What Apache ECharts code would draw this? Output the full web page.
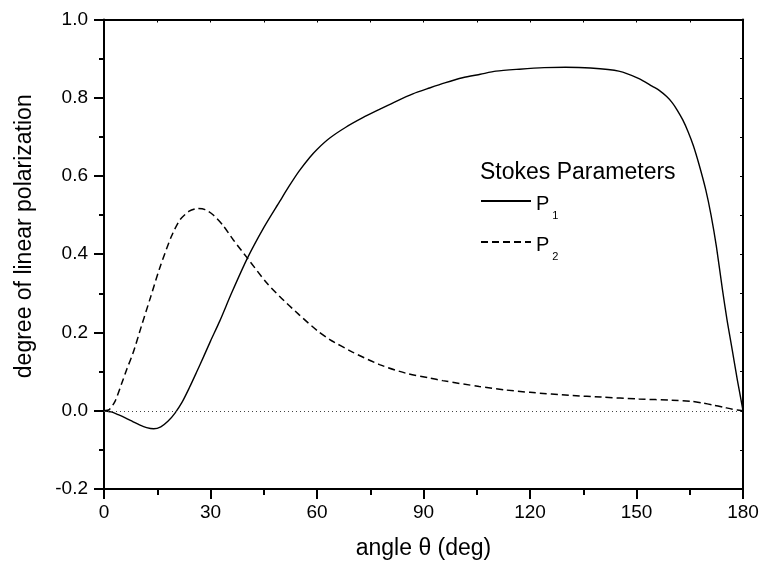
<!DOCTYPE html>
<html>
<head>
<meta charset="utf-8">
<script src="https://cdn.jsdelivr.net/npm/echarts@6/dist/echarts.min.js"></script>
<style>
  html, body { margin: 0; padding: 0; background: #fff; }
  #chart { width: 763px; height: 574px; }
</style>
</head>
<body>
<div id="chart"></div>
<script>
// values
const p1Angle = [0, 2, 4, 6, 8, 10, 12, 14, 16, 18, 20, 22, 24, 26, 28, 30, 32.6, 36, 40.4, 45, 49.5, 52, 55, 58, 60, 63.6, 68, 72.9, 78, 82.3, 87, 91.7, 96, 101, 106, 110.4, 117, 124, 130, 137, 145, 150.7, 154.5, 156.4, 158.5, 160.1, 161.5, 163, 164.5, 166, 167.6, 169.5, 171, 172.5, 174.2, 175.5, 176.5, 177.5, 178.4, 179.3, 180]
const p1Value = [0, -0.003, -0.010, -0.018, -0.027, -0.036, -0.043, -0.046, -0.041, -0.027, -0.006, 0.022, 0.058, 0.097, 0.137, 0.178, 0.229, 0.302, 0.390, 0.468, 0.535, 0.572, 0.613, 0.648, 0.668, 0.697, 0.724, 0.749, 0.772, 0.791, 0.810, 0.825, 0.838, 0.851, 0.860, 0.868, 0.873, 0.877, 0.878, 0.876, 0.868, 0.849, 0.829, 0.819, 0.803, 0.787, 0.768, 0.744, 0.714, 0.678, 0.630, 0.565, 0.500, 0.420, 0.310, 0.232, 0.180, 0.127, 0.079, 0.035, 0]
const p2Angle = [0, 1.5, 3.1, 5, 6.5, 8.2, 10.5, 12.9, 15.7, 19, 21.4, 24, 26.5, 28.5, 30.7, 33.5, 36.4, 40.4, 45.8, 49.5, 55, 60.3, 63.6, 70, 77.6, 85, 91.7, 95.4, 105.7, 113.2, 120, 132, 140, 150.7, 160, 165.7, 168.5, 171.4, 174.5, 177, 180]
const p2Value = [0, 0.003, 0.024, 0.070, 0.108, 0.148, 0.215, 0.284, 0.365, 0.446, 0.488, 0.510, 0.517, 0.514, 0.501, 0.474, 0.437, 0.390, 0.327, 0.292, 0.245, 0.203, 0.182, 0.150, 0.118, 0.096, 0.084, 0.077, 0.062, 0.053, 0.047, 0.039, 0.035, 0.030, 0.027, 0.024, 0.020, 0.015, 0.009, 0.004, 0]
const seriesNames = ['P1', 'P2']
const legendTitle = 'Stokes Parameters'
const xName = 'angle θ (deg)'
const yName = 'degree of linear polarization'

const font = 'Liberation Sans, Arial, sans-serif'
const axisLine = { show: true, onZero: false, lineStyle: { color: '#000', width: 2 } }

function pairs (xs, ys) {
  return xs.map((x, i) => [x, ys[i]])
}

const options = {
  animation: false,
  backgroundColor: '#fff',
  grid: { left: 104, right: 20, top: 19.5, bottom: 85 },
  graphic: [{
    type: 'text',
    left: 480,
    top: 161,
    style: { text: legendTitle, font: '23px ' + font, fill: '#000' }
  }],
  legend: {
    orient: 'vertical',
    left: 475,
    top: 189,
    itemWidth: 50,
    itemHeight: 14,
    itemGap: 13.5,
    data: seriesNames,
    itemStyle: { opacity: 0 },
    formatter: name => '{p|P}{s|' + name.slice(1) + '}',
    textStyle: {
      color: '#000',
      fontFamily: font,
      rich: {
        p: { fontSize: 20, fontFamily: font, color: '#000', padding: [6, 0, 0, 0] },
        s: { fontSize: 11, fontFamily: font, color: '#000', padding: [30, 0, 0, 3] }
      }
    }
  },
  xAxis: [
    {
      type: 'value',
      min: 0,
      max: 180,
      interval: 30,
      name: xName,
      nameLocation: 'middle',
      nameGap: 48,
      nameTextStyle: { fontSize: 23, fontFamily: font, color: '#000' },
      axisLine: axisLine,
      axisTick: { length: 10, lineStyle: { color: '#000', width: 2 } },
      minorTick: { show: true, splitNumber: 2, length: 6, lineStyle: { color: '#000', width: 2 } },
      axisLabel: { fontSize: 19, fontFamily: font, color: '#000', margin: 14 },
      splitLine: { show: false }
    },
    {
      type: 'value',
      position: 'top',
      min: 0,
      max: 180,
      interval: 30,
      axisLine: axisLine,
      axisTick: { inside: true, length: 3, lineStyle: { color: '#000', width: 1 } },
      minorTick: { show: true, splitNumber: 2, length: 3, lineStyle: { color: '#000', width: 1 } },
      axisLabel: { show: false },
      splitLine: { show: false }
    }
  ],
  yAxis: [
    {
      type: 'value',
      min: -0.2,
      max: 1.0,
      interval: 0.2,
      name: yName,
      nameLocation: 'middle',
      nameGap: 68,
      nameTextStyle: { fontSize: 23, fontFamily: font, color: '#000', padding: [0, 0, 0, 36] },
      axisLine: axisLine,
      axisTick: { length: 10, lineStyle: { color: '#000', width: 2 } },
      minorTick: { show: true, splitNumber: 2, length: 5, lineStyle: { color: '#000', width: 2 } },
      axisLabel: {
        fontSize: 19,
        fontFamily: font,
        color: '#000',
        margin: 16,
        formatter: v => v.toFixed(1)
      },
      splitLine: { show: false }
    },
    {
      type: 'value',
      position: 'right',
      min: -0.2,
      max: 1.0,
      interval: 0.2,
      axisLine: axisLine,
      axisTick: { inside: true, length: 3, lineStyle: { color: '#000', width: 1 } },
      minorTick: { show: true, splitNumber: 2, length: 3, lineStyle: { color: '#000', width: 1 } },
      axisLabel: { show: false },
      splitLine: { show: false }
    }
  ],
  series: [
    {
      name: seriesNames[0],
      type: 'line',
      data: pairs(p1Angle, p1Value),
      symbol: 'none',
      smooth: 0.25,
      color: '#000',
      lineStyle: { color: '#000', width: 1.4 },
      markLine: {
        silent: true,
        symbol: 'none',
        label: { show: false },
        lineStyle: { color: '#444', width: 1, type: [1, 3] },
        data: [{ yAxis: 0 }]
      }
    },
    {
      name: seriesNames[1],
      type: 'line',
      data: pairs(p2Angle, p2Value),
      symbol: 'none',
      smooth: 0.25,
      color: '#000',
      lineStyle: { color: '#000', width: 1.5, type: [7, 4] }
    }
  ]
}

const chart = echarts.init(document.getElementById('chart'))
chart.setOption(options, true)
</script>
</body>
</html>
